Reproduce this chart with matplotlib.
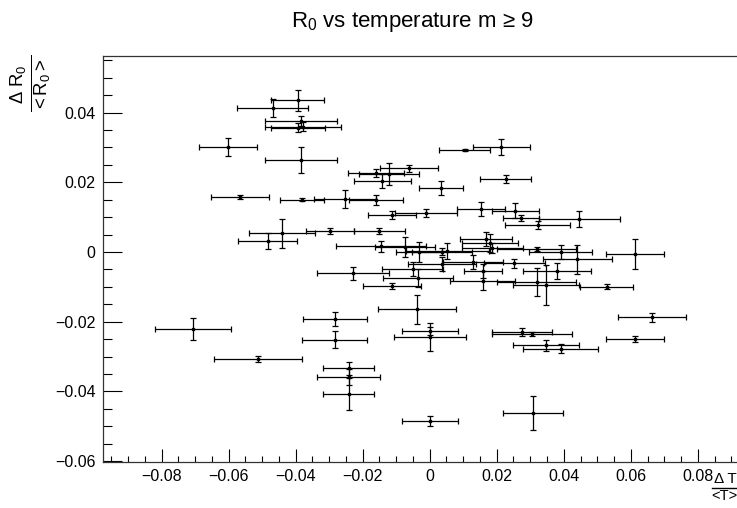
import matplotlib
matplotlib.use("Agg")
import matplotlib.pyplot as plt
from matplotlib.ticker import MultipleLocator, FixedLocator
from matplotlib.lines import Line2D
import numpy as np

plt.rcParams['font.family'] = ['Liberation Sans', 'DejaVu Sans']
plt.rcParams['mathtext.fontset'] = 'custom'
plt.rcParams['mathtext.rm'] = 'Liberation Sans'
plt.rcParams['mathtext.it'] = 'Liberation Sans'
plt.rcParams['mathtext.bf'] = 'Liberation Sans:bold'

# data: relative temperature change, relative R0 change and their errors
dT = [-0.0394, -0.0469, -0.0384, -0.0394, -0.0378, -0.0601, -0.0384, -0.0566, -0.0381, -0.0253,
      -0.0161, -0.0112, -0.0011, -0.0440, -0.0484, -0.0298, -0.0151, -0.0146, -0.0074, -0.0062,
      -0.0161, -0.0121, -0.0141, 0.0034, 0.0105, 0.0214, 0.0227, 0.0152, 0.0256, 0.0272,
      0.0322, 0.0447, 0.0169, 0.0179, 0.0187, 0.0319, 0.0391, 0.0441, 0.0613, -0.0032,
      0.0036, 0.0053, 0.0036, 0.0129, 0.0253, -0.0051, -0.0034, -0.0228, -0.0112, 0.0159,
      0.0380, 0.0158, 0.0319, 0.0348, 0.0528, -0.0038, -0.0283, -0.0284, -0.0706, -0.0513,
      -0.0242, -0.0242, -0.0242, 0.0001, 0.0309, 0.0001, 0.0001, 0.0275, 0.0306, 0.0348,
      0.0391, 0.0663, 0.0613]
dR = [0.0436, 0.0414, 0.0376, 0.0356, 0.0359, 0.0301, 0.0264, 0.0158, 0.0150, 0.0152,
      0.0150, 0.0106, 0.0111, 0.0054, 0.0032, 0.0060, 0.0060, 0.0017, 0.0015, 0.0240,
      0.0226, 0.0224, 0.0205, 0.0185, 0.0293, 0.0302, 0.0209, 0.0123, 0.0119, 0.0098,
      0.0078, 0.0094, 0.0036, 0.0027, 0.0012, 0.0009, -0.0001, -0.0021, -0.0006, -0.0001,
      0.0001, 0.0003, -0.0035, -0.0030, -0.0032, -0.0049, -0.0074, -0.0061, -0.0098, -0.0055,
      -0.0055, -0.0082, -0.0087, -0.0095, -0.0100, -0.0164, -0.0191, -0.0252, -0.0221, -0.0308,
      -0.0334, -0.0359, -0.0407, -0.0485, -0.0463, -0.0226, -0.0243, -0.0230, -0.0235, -0.0268,
      -0.0277, -0.0187, -0.0250]
dT_err = [0.0079, 0.0105, 0.0107, 0.0081, 0.0112, 0.0087, 0.0107, 0.0086, 0.0065, 0.0092,
          0.0081, 0.0072, 0.0093, 0.0098, 0.0089, 0.0072, 0.0076, 0.0134, 0.0090, 0.0087,
          0.0084, 0.0090, 0.0084, 0.0065, 0.0076, 0.0084, 0.0076, 0.0072, 0.0070, 0.0054,
          0.0096, 0.0122, 0.0078, 0.0084, 0.0090, 0.0119, 0.0094, 0.0104, 0.0087, 0.0069,
          0.0090, 0.0125, 0.0101, 0.0090, 0.0090, 0.0090, 0.0105, 0.0107, 0.0087, 0.0057,
          0.0101, 0.0096, 0.0119, 0.0099, 0.0080, 0.0116, 0.0095, 0.0098, 0.0113, 0.0131,
          0.0077, 0.0094, 0.0077, 0.0084, 0.0090, 0.0084, 0.0107, 0.0090, 0.0119, 0.0099,
          0.0112, 0.0101, 0.0087]
dR_err = [0.0030, 0.0026, 0.0013, 0.0013, 0.0013, 0.0025, 0.0036, 0.0006, 0.0004, 0.0027,
          0.0015, 0.0011, 0.0011, 0.0042, 0.0022, 0.0009, 0.0009, 0.0016, 0.0029, 0.0011,
          0.0011, 0.0032, 0.0020, 0.0020, 0.0004, 0.0023, 0.0011, 0.0020, 0.0022, 0.0009,
          0.0012, 0.0023, 0.0020, 0.0026, 0.0014, 0.0006, 0.0020, 0.0042, 0.0042, 0.0029,
          0.0011, 0.0022, 0.0020, 0.0020, 0.0013, 0.0020, 0.0026, 0.0018, 0.0009, 0.0020,
          0.0023, 0.0027, 0.0040, 0.0057, 0.0007, 0.0042, 0.0020, 0.0024, 0.0032, 0.0009,
          0.0019, 0.0023, 0.0046, 0.0014, 0.0049, 0.0011, 0.0040, 0.0011, 0.0006, 0.0015,
          0.0013, 0.0013, 0.0009]

x_ticks = [-0.08, -0.06, -0.04, -0.02, 0, 0.02, 0.04, 0.06, 0.08]
x_ticklabels = ['\u22120.08', '\u22120.06', '\u22120.04', '\u22120.02', '0', '0.02', '0.04', '0.06', '0.08']
y_ticks = [-0.06, -0.04, -0.02, 0, 0.02, 0.04]
y_ticklabels = ['\u22120.06', '\u22120.04', '\u22120.02', '0', '0.02', '0.04']

W, H = 737, 508
fig = plt.figure(figsize=(W / 100, H / 100), dpi=100)
ax = fig.add_axes([103.3 / W, 46 / H, (W - 103.3) / W + 0.01, (462 - 55.7) / H])

ax.errorbar(dT, dR, xerr=dT_err, yerr=dR_err, fmt='s', ms=1.7, color='black',
            ecolor='black', elinewidth=0.9, capsize=2.4, capthick=0.9)

ax.set_xlim(-0.0974, 0.0917 + 0.01 * W / (W - 103.3) * (0.0917 + 0.0974))
ax.set_ylim(-0.06026, 0.05633)
ax.xaxis.set_major_locator(FixedLocator(x_ticks))
ax.xaxis.set_minor_locator(MultipleLocator(0.005))
ax.yaxis.set_major_locator(FixedLocator(y_ticks))
ax.yaxis.set_minor_locator(MultipleLocator(0.005))
ax.set_xticklabels(x_ticklabels)
ax.set_yticklabels(y_ticklabels)

ax.tick_params(axis='x', which='major', direction='in', length=9.1, width=0.8, pad=5, labelsize=11.5)
ax.tick_params(axis='x', which='minor', direction='in', length=4.6, width=0.8)
ax.tick_params(axis='y', which='major', direction='in', length=13.7, width=0.8, pad=5.5, labelsize=11.5)
ax.tick_params(axis='y', which='minor', direction='in', length=6.8, width=0.8)
for s in ['left', 'bottom', 'top', 'right']:
    ax.spines[s].set_linewidth(0.9)
    ax.spines[s].set_color('#333333')
ax.spines['right'].set_visible(False)

fig.text(412 / W, 1 - 22 / H, 'R$_{\\mathrm{0}}$ vs temperature m \u2265 9', ha='center', va='center', fontsize=16)

# y-axis title (rotated fraction)
fig.text(32 / W, 1 - 55 / H, r'$\frac{\Delta\ \mathrm{R}_{\mathrm{0}}}{\mathrm{<R}_{\mathrm{0}}\mathrm{>}}$',
         rotation=90, ha='center', va='top', fontsize=19)

# x-axis title (fraction built from two texts and a bar)
fig.text(725.5 / W, 1 - 486 / H, '\u0394 T', ha='center', va='bottom', fontsize=11)
fig.add_artist(Line2D([712 / W, 736.5 / W], [1 - 487.5 / H, 1 - 487.5 / H], color='black', lw=1.0))
fig.text(724.5 / W, 1 - 489 / H, '<T>', ha='center', va='top', fontsize=10.5)

fig.savefig('out.png', dpi=100)
